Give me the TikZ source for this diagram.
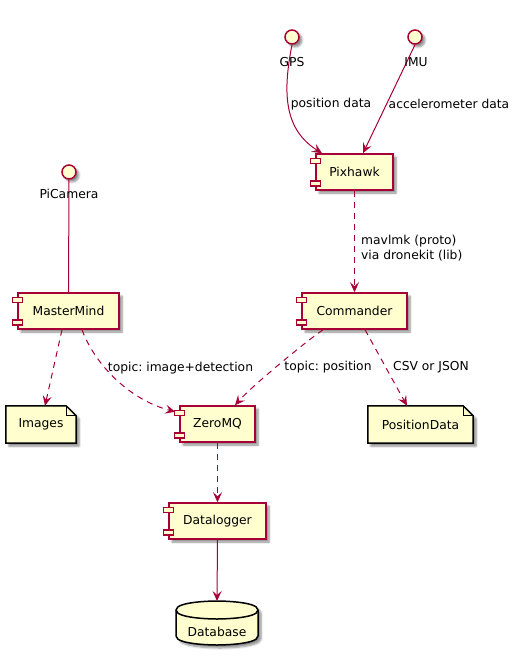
\documentclass[tikz,border=0pt]{standalone}
\usepackage{fontspec}
\setmainfont{DejaVu Sans}
\usetikzlibrary{arrows.meta,shadows.blur}
\definecolor{plumred}{HTML}{A80036}
\definecolor{plumfill}{HTML}{FEFECE}
\pgfdeclarelayer{background}
\pgfsetlayers{background,main}
\frenchspacing
\begin{document}
\begin{tikzpicture}[x=1pt,y=-1pt,
  every node/.style={font=\fontsize{12.3}{14.5}\selectfont\frenchspacing, text=black},
  shad/.style={blur shadow={shadow xshift=3pt,shadow yshift=-3pt,shadow blur steps=6,shadow blur radius=2pt,shadow opacity=45}},
  comp/.style={draw=plumred,fill=plumfill,line width=1.5pt,minimum height=36pt,inner sep=0pt,shad},
  tabbox/.style={draw=plumred,fill=plumfill,line width=1.5pt},
  iface/.style={circle,draw=plumred,fill=plumfill,line width=1.5pt,minimum size=14pt,inner sep=0pt,shad},
  notebox/.style={draw=black,fill=plumfill,line width=1.5pt,shad},
  txt/.style={inner sep=0pt},
  conn/.style={draw=plumred,line width=1pt},
  arr/.style={conn,-{Stealth[length=10pt,width=9pt,inset=4pt]}},
  dsh/.style={dash pattern=on 6pt off 5pt}
]
\useasboundingbox (0,0) rectangle (520,656);

% interfaces
\node[iface] (gps) at (292,37) {};
\node[iface] (imu) at (415,37) {};
\node[iface] (picam) at (69,172) {};

% components
\node[comp,minimum width=77pt] (pix) at (354.5,172) {Pixhawk};
\node[comp,minimum width=105pt] (cmd) at (354.5,311) {Commander};
\node[comp,minimum width=101pt] (mm) at (68.5,311) {MasterMind};
\node[comp,minimum width=75pt] (zmq) at (217.5,424) {ZeroMQ};
\node[comp,minimum width=97pt] (dl) at (217.5,521) {Datalogger};
\foreach \n in {pix,cmd,mm,zmq,dl}{
  \draw[tabbox] ([xshift=-5pt,yshift=-5pt]\n.north west) rectangle ++(10pt,-5pt);
  \draw[tabbox] ([xshift=-5pt,yshift=5pt]\n.south west) rectangle ++(10pt,5pt);
}

% notes (files)
\node[txt,minimum width=70pt,minimum height=37pt] (img) at (41,424.5) {Images};
\node[txt,minimum width=105pt,minimum height=37pt] (pos) at (420.5,424.5) {PositionData};

% database
\node[txt] (db) at (217,632) {Database};
\coordinate (dbtop) at (217,601);

\begin{pgfonlayer}{background}
\foreach \n in {img,pos}{
  \filldraw[notebox] (\n.north west) -- ([xshift=-10pt]\n.north east) -- ([yshift=-10pt]\n.north east) -- (\n.south east) -- (\n.south west) -- cycle;
  \draw[black,line width=1pt] ([xshift=-10pt]\n.north east) -- ([xshift=-10pt,yshift=-10pt]\n.north east) -- ([yshift=-10pt]\n.north east);
}
\filldraw[notebox] (176,610) .. controls (176,601) and (217,601) .. (217,601) .. controls (217,601) and (258,601) .. (258,610) -- (258,636) .. controls (258,645) and (217,645) .. (217,645) .. controls (217,645) and (176,645) .. (176,636) -- cycle;
\draw[black,line width=1.5pt] (176,610) .. controls (176,619) and (217,619) .. (217,619) .. controls (217,619) and (258,619) .. (258,610);
\end{pgfonlayer}

% connectors
\draw[arr] (gps.south) .. controls (282,95) and (285,130) .. ([xshift=-32.5pt]pix.north);
\draw[arr] (imu.south) -- ([xshift=8.5pt]pix.north);
\draw[arr,dsh] (pix.south) -- (cmd.north);
\draw[conn] (picam.south) -- (mm.north);
\draw[arr,dsh] ([xshift=-6.5pt]mm.south) -- ([xshift=4pt]img.north);
\draw[arr,dsh] ([xshift=13.5pt]mm.south) .. controls (95,365) and (130,400) .. ([xshift=-4pt,yshift=-6.5pt]zmq.north west);
\draw[arr,dsh] ([xshift=-31.5pt]cmd.south) .. controls (300,346) and (250,388) .. ([xshift=17.5pt]zmq.north);
\draw[arr,dsh] ([xshift=10.5pt]cmd.south) -- ([xshift=-13.5pt]pos.north);
\draw[arr,dsh] (zmq.south) -- (dl.north);
\draw[arr] (dl.south) -- (dbtop);

% interface labels
\node[txt] (gpsl) at (292,62) {GPS};
\node[txt] (imul) at (416,62) {IMU};
\node[txt] (picaml) at (69,194) {PiCamera};

% connector labels
\node[txt] (l1) at (331,104) {position data};
\node[txt] (l2) at (449,104) {accelerometer data};
\node[txt,anchor=west,align=left] (l3) at (361,248) {mavlmk (proto)\\via dronekit (lib)};
\node[txt] (l4) at (180.5,368) {topic: image+detection};
\node[txt] (l5) at (328,367) {topic: position};
\node[txt] (l6) at (431,367) {CSV or JSON};
\end{tikzpicture}
\end{document}
